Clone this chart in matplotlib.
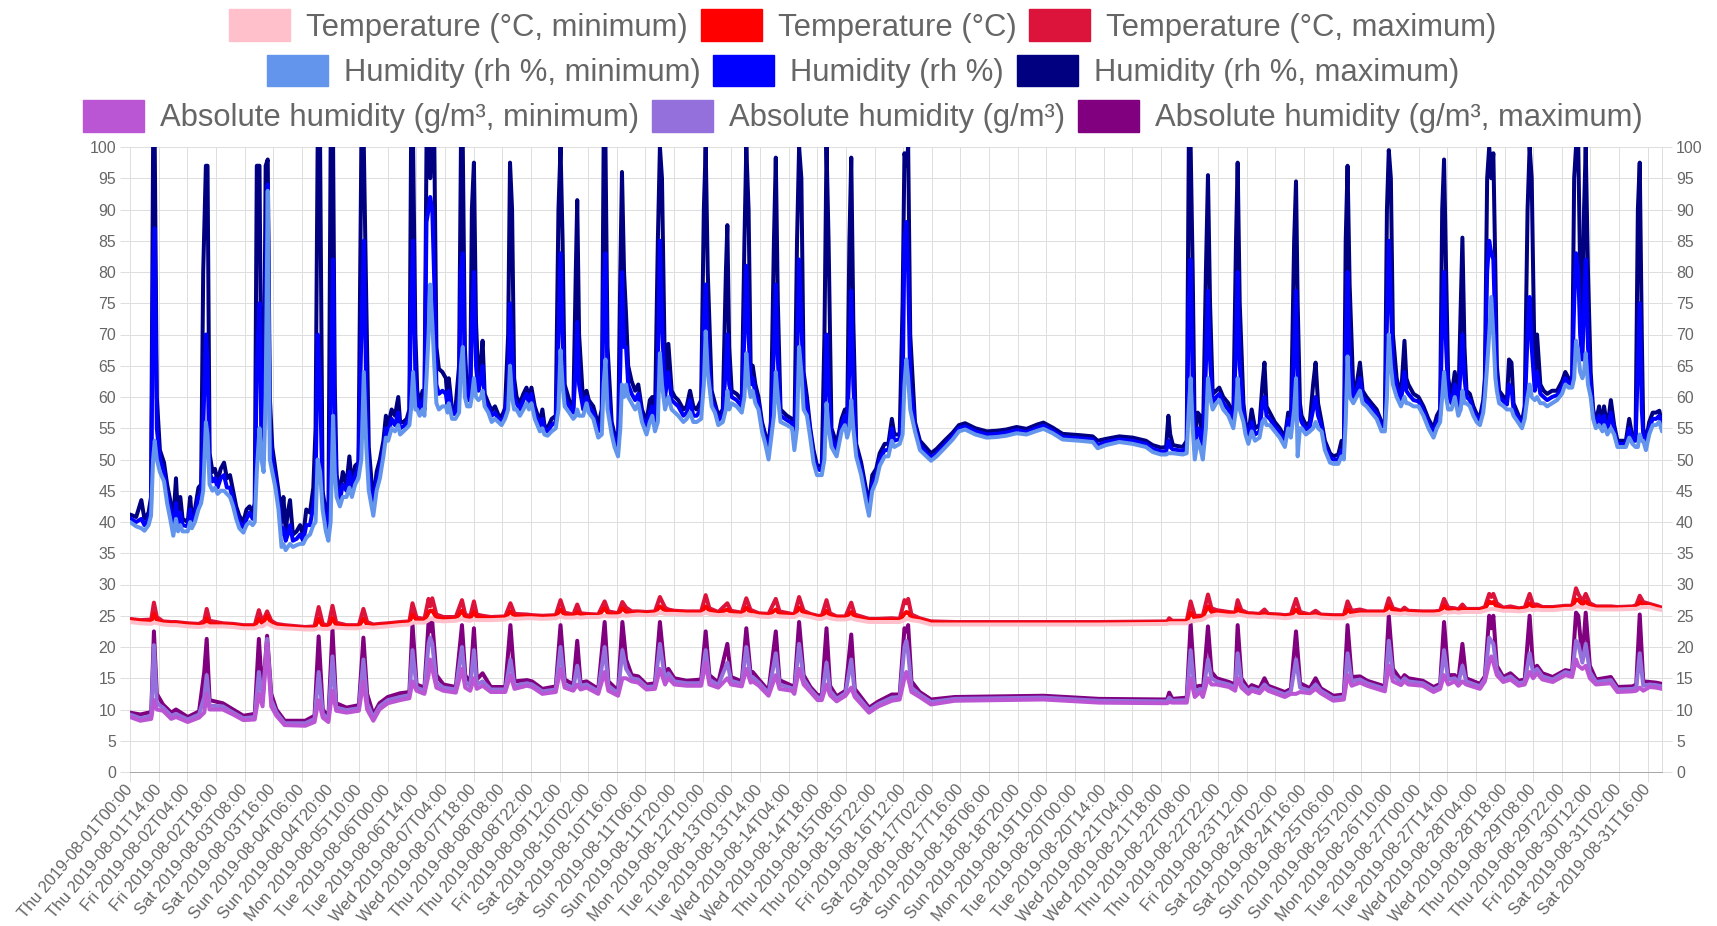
import matplotlib
matplotlib.use("Agg")
import matplotlib.pyplot as plt
from matplotlib.patches import Patch

plt.rcParams['font.family'] = ['Liberation Sans', 'DejaVu Sans']

# the category axis holds 750 samples; positions below were read off the
# picture on a 0..743 scale across the plot width
N_SAMPLES = 750
READ_SCALE = (N_SAMPLES - 1) / 743

# one label every 14 samples (the log has six extra samples on 3 Aug)
tick_labels = [
    "Thu 2019-08-01T00:00", "Thu 2019-08-01T14:00", "Fri 2019-08-02T04:00",
    "Fri 2019-08-02T18:00", "Sat 2019-08-03T08:00", "Sat 2019-08-03T16:00",
    "Sun 2019-08-04T06:00", "Sun 2019-08-04T20:00", "Mon 2019-08-05T10:00",
    "Tue 2019-08-06T00:00", "Tue 2019-08-06T14:00", "Wed 2019-08-07T04:00",
    "Wed 2019-08-07T18:00", "Thu 2019-08-08T08:00", "Thu 2019-08-08T22:00",
    "Fri 2019-08-09T12:00", "Sat 2019-08-10T02:00", "Sat 2019-08-10T16:00",
    "Sun 2019-08-11T06:00", "Sun 2019-08-11T20:00", "Mon 2019-08-12T10:00",
    "Tue 2019-08-13T00:00", "Tue 2019-08-13T14:00", "Wed 2019-08-14T04:00",
    "Wed 2019-08-14T18:00", "Thu 2019-08-15T08:00", "Thu 2019-08-15T22:00",
    "Fri 2019-08-16T12:00", "Sat 2019-08-17T02:00", "Sat 2019-08-17T16:00",
    "Sun 2019-08-18T06:00", "Sun 2019-08-18T20:00", "Mon 2019-08-19T10:00",
    "Tue 2019-08-20T00:00", "Tue 2019-08-20T14:00", "Wed 2019-08-21T04:00",
    "Wed 2019-08-21T18:00", "Thu 2019-08-22T08:00", "Thu 2019-08-22T22:00",
    "Fri 2019-08-23T12:00", "Sat 2019-08-24T02:00", "Sat 2019-08-24T16:00",
    "Sun 2019-08-25T06:00", "Sun 2019-08-25T20:00", "Mon 2019-08-26T10:00",
    "Tue 2019-08-27T00:00", "Tue 2019-08-27T14:00", "Wed 2019-08-28T04:00",
    "Wed 2019-08-28T18:00", "Thu 2019-08-29T08:00", "Thu 2019-08-29T22:00",
    "Fri 2019-08-30T12:00", "Sat 2019-08-31T02:00", "Sat 2019-08-31T16:00",
]
TICK_STEP = 14

# humidity (rh %): position on the axis, then min / mean / max
hum_pos = [
    0, 3, 5.5, 7, 9, 10.2, 11.2, 12.0, 13.0, 14.5,
    16.5, 18, 19.5, 21, 22.3, 23.3, 24.4, 25.5, 28, 29.2,
    30, 31.5, 33.2, 34.5, 35.5, 36.8, 37.6, 38.6, 40, 41.2,
    42.5, 44, 45.6, 47, 48.5, 50, 51.5, 53, 55, 56.5,
    58, 59.5, 60.5, 61.5, 62.8, 63.8, 64.8, 65.8, 66.8, 67.8,
    69, 70.5, 72, 73.5, 74.4, 75.5, 76.5, 77.6, 79, 80.8,
    82.5, 84, 85.5, 87.3, 88.9, 90, 91.0, 92.2, 93.4, 95,
    96.2, 97.3, 98.5, 99.3, 100.2, 101.8, 103.2, 105, 106.4, 107.6,
    109.2, 110.8, 112.2, 113.4, 114.6, 115.8, 118, 119.6, 121.2, 122.9,
    124.1, 125.2, 126.9, 128.5, 130.1, 131, 132.6, 134.2, 135.5, 136.3,
    137.3, 138.4, 139.3, 140.5, 141.9, 142.8, 143.8, 144.8, 145.6, 146.6,
    147.6, 148.6, 149.8, 151.5, 153.2, 154, 154.6, 156.2, 157.8, 159.6,
    160.5, 161.4, 162.4, 163.5, 165, 165.8, 166.8, 167.8, 169, 170.3,
    171, 172, 173.8, 175.4, 177, 178.6, 180.2, 181.9, 183.4, 184.3,
    185.3, 186.3, 187.5, 189.1, 190.8, 192.3, 193.5, 194.7, 196.3, 198.8,
    200, 201, 202.5, 204.5, 206.5, 207.8, 208.8, 209.8, 210.8, 213,
    215, 216.2, 216.9, 217.8, 219.8, 221.4, 222.5, 224.7, 227.1, 228.8,
    229.7, 230.6, 231.6, 233.6, 235, 236.7, 237.8, 238.6, 239.6, 240.6,
    241.6, 243.3, 245, 246.5, 248.3, 250.5, 252.1, 253.3, 254.6, 256,
    257, 258, 259.5, 261.1, 262.7, 264.3, 265.9, 268.4, 270, 271.6,
    273.2, 274.8, 277, 278.3, 279.2, 280.2, 282.1, 283.7, 285.3, 287.5,
    289, 289.7, 290.6, 291.8, 294.2, 296.7, 298, 298.9, 300, 301,
    302, 303.3, 304.8, 306.5, 308.1, 309.7, 310.8, 312.3, 313.2, 314.2,
    315.5, 318.6, 321.1, 322.2, 323.5, 324.5, 325.6, 326.7, 328.3, 329.9,
    331.5, 333.2, 335.5, 336.8, 337.8, 338.8, 340.2, 342.7, 345.1, 346.7,
    347.8, 348.9, 349.8, 350.8, 352.2, 354.6, 357.1, 358.4, 360, 361.9,
    363.6, 366, 367.8, 369.5, 370.7, 373.3, 374.7, 375.6, 376.5, 377.4,
    378.4, 380.7, 383.1, 386.3, 388.5, 391.2, 395, 399, 402, 405,
    410, 415.5, 420.4, 425, 430, 434.8, 440, 443, 447.5, 452.3,
    460.4, 466.9, 469.3, 473.3, 479.8, 486.3, 492.7, 496, 500, 502.5,
    503.6, 504.5, 505.8, 510.6, 512.5, 513.5, 514.4, 515.4, 516.4, 517.8,
    519, 520.3, 521.8, 522.8, 523.8, 525.1, 526.8, 528.3, 530.2, 532.7,
    535.1, 536.4, 537.2, 538.2, 540, 541, 542.4, 544, 545.6, 547.8,
    549.2, 550.2, 551.2, 552.8, 555.2, 557.6, 560.1, 561.7, 563, 564.6,
    565.5, 566.3, 567.4, 568.2, 570.3, 572.2, 573.8, 575, 576.2, 577.9,
    579.5, 582, 583.6, 586, 587.6, 588.7, 589.6, 590.5, 591.5, 593.3,
    594.9, 596.5, 597.8, 599.7, 602.1, 604.6, 607, 608.6, 609.6, 610.5,
    611.5, 612.5, 614.3, 616.4, 618.1, 619, 620, 622.5, 624.9, 627.3,
    629.7, 632.2, 633.8, 635.4, 636.4, 637.3, 638.3, 639.3, 640.9, 642.5,
    644.2, 645.4, 646.2, 647.2, 648.2, 649.8, 651.5, 653.1, 654.7, 656.3,
    657.1, 658.2, 659.2, 660.2, 661.2, 662.2, 662.9, 664, 666.2, 667.8,
    668.8, 670, 671, 673.5, 675.1, 676.4, 677.8, 678.8, 679.8, 681.3,
    682.4, 684, 685.6, 687.3, 689.7, 692.1, 694.5, 696.1, 697.7, 699.4,
    700.4, 701.3, 702.4, 703.3, 704.4, 705.2, 706, 707.1, 708.4, 709.6,
    710.9, 712.5, 714.1, 714.9, 716.5, 718.2, 719.8, 721.4, 723.9, 725.5,
    727.1, 728.7, 730.2, 731.3, 732.2, 733.2, 733.9, 735.2, 736.8, 738.5,
    740.1, 741.7, 743,
]
hum_min = [
    40.0, 39.3, 39.0, 38.6, 39.5, 41.0, 50.0, 53.0, 50.0, 48.0,
    46.5, 43.0, 40.5, 37.8, 40.5, 38.5, 39.5, 38.5, 38.5, 40.0,
    39.0, 40.0, 42.0, 43.0, 45.0, 56.0, 54.0, 46.0, 45.0, 45.5,
    44.5, 45.0, 45.0, 44.5, 44.0, 42.5, 40.5, 39.0, 38.3, 39.5,
    40.0, 39.5, 40.0, 48.0, 55.0, 50.0, 48.0, 60.0, 93.0, 50.0,
    48.0, 45.5, 42.0, 36.0, 36.5, 35.5, 36.0, 36.5, 36.0, 36.3,
    36.5, 36.5, 37.5, 38.0, 39.5, 40.0, 50.0, 48.0, 42.0, 38.5,
    37.0, 40.0, 57.0, 48.0, 44.0, 42.5, 44.0, 44.0, 45.5, 44.0,
    46.0, 47.0, 50.0, 64.0, 52.0, 45.0, 41.0, 45.0, 47.0, 50.5,
    53.5, 53.0, 55.0, 54.5, 55.5, 54.0, 54.5, 55.0, 55.5, 58.0,
    64.0, 58.0, 58.0, 57.0, 58.0, 57.0, 63.0, 70.0, 78.0, 72.0,
    65.0, 59.0, 58.0, 58.5, 58.5, 57.5, 59.0, 56.5, 56.5, 57.5,
    65.0, 68.0, 60.0, 58.5, 58.5, 60.0, 63.0, 60.0, 59.5, 60.0,
    61.0, 58.5, 57.5, 56.0, 56.5, 56.0, 55.5, 56.5, 58.0, 65.0,
    60.0, 58.0, 58.0, 57.0, 58.0, 59.0, 58.0, 59.0, 56.5, 54.5,
    55.0, 54.0, 53.8, 54.5, 55.0, 58.0, 67.5, 62.0, 58.5, 57.5,
    56.5, 57.0, 58.0, 57.0, 57.0, 59.0, 57.5, 56.5, 53.5, 54.0,
    62.0, 66.0, 58.0, 54.0, 52.0, 50.5, 55.0, 62.0, 60.0, 62.0,
    60.0, 59.0, 58.0, 59.0, 56.0, 54.0, 56.0, 57.0, 54.5, 56.0,
    67.0, 62.0, 58.0, 60.0, 58.0, 57.5, 57.0, 56.0, 56.5, 57.5,
    56.0, 56.0, 56.5, 62.0, 70.5, 64.0, 58.5, 57.5, 55.5, 56.0,
    58.0, 61.0, 58.0, 59.0, 58.5, 57.5, 60.0, 67.0, 62.0, 60.0,
    61.0, 59.0, 58.0, 54.5, 52.5, 50.0, 53.0, 57.0, 64.0, 60.0,
    56.0, 55.5, 55.0, 51.5, 55.0, 68.0, 64.0, 58.0, 57.0, 53.5,
    49.5, 47.5, 47.5, 50.0, 59.0, 55.0, 52.0, 50.5, 54.5, 55.5,
    53.5, 55.0, 59.5, 55.0, 50.5, 47.5, 43.0, 41.0, 45.0, 46.5,
    49.0, 50.5, 50.5, 53.0, 52.0, 52.5, 54.0, 62.0, 66.0, 63.0,
    58.0, 54.5, 51.5, 50.5, 49.8, 50.5, 51.8, 53.2, 54.5, 54.8,
    54.0, 53.5, 53.6, 53.8, 54.2, 54.0, 54.6, 54.9, 54.2, 53.2,
    53.0, 52.8, 51.8, 52.3, 52.8, 52.5, 52.0, 51.2, 50.8, 50.8,
    51.0, 51.0, 51.0, 50.8, 51.0, 58.0, 63.0, 55.0, 50.0, 53.0,
    52.0, 50.0, 55.0, 63.0, 60.0, 58.0, 59.0, 59.5, 58.0, 57.0,
    55.0, 58.0, 63.0, 58.0, 56.0, 54.0, 52.5, 54.5, 53.0, 53.5,
    56.0, 56.5, 55.5, 55.5, 54.5, 53.5, 52.0, 55.0, 53.5, 58.0,
    63.0, 50.5, 55.0, 55.0, 54.0, 54.5, 55.0, 56.0, 55.0, 54.5,
    51.5, 49.5, 49.3, 49.3, 50.5, 50.0, 56.0, 66.5, 60.0, 59.0,
    60.0, 61.0, 59.0, 58.5, 57.5, 56.5, 54.5, 54.5, 60.0, 70.0,
    65.0, 62.0, 60.0, 58.5, 60.0, 59.0, 59.0, 58.5, 58.5, 57.0,
    55.0, 53.5, 55.0, 56.0, 60.0, 64.0, 60.0, 58.0, 58.0, 60.0,
    57.0, 58.0, 61.0, 59.0, 59.0, 58.5, 57.0, 56.0, 55.5, 57.5,
    60.0, 65.0, 70.0, 76.0, 70.0, 63.0, 61.0, 59.0, 58.5, 58.0,
    58.0, 58.0, 57.0, 55.8, 55.0, 56.5, 60.0, 62.0, 60.0, 59.5,
    60.0, 59.0, 59.0, 58.5, 59.0, 59.5, 60.5, 62.0, 61.5, 61.5,
    63.0, 69.0, 67.0, 64.0, 63.0, 64.0, 67.0, 62.0, 60.0, 56.5,
    55.0, 55.5, 54.5, 55.5, 54.0, 55.0, 54.0, 52.0, 52.0, 52.0,
    53.5, 52.5, 52.0, 52.0, 54.0, 53.0, 53.0, 51.5, 54.0, 55.5,
    55.5, 56.0, 54.5,
]
hum_avg = [
    40.6, 40.0, 40.5, 39.5, 40.5, 42.5, 80.0, 87.0, 55.0, 50.0,
    48.0, 44.5, 42.0, 38.8, 43.0, 39.5, 41.5, 39.5, 39.3, 42.0,
    39.8, 41.0, 44.0, 44.5, 55.0, 70.0, 66.0, 48.0, 46.5, 47.0,
    45.5, 47.0, 47.5, 45.5, 45.5, 43.5, 41.5, 40.0, 39.0, 40.5,
    41.5, 40.5, 41.5, 65.0, 75.0, 52.0, 50.0, 80.0, 94.0, 55.0,
    50.0, 47.0, 43.5, 38.0, 39.0, 37.0, 38.0, 39.5, 37.0, 37.3,
    38.0, 37.0, 39.5, 39.5, 42.5, 45.0, 70.0, 62.0, 43.5, 40.0,
    38.0, 60.0, 82.0, 55.0, 46.0, 43.5, 46.0, 45.0, 48.0, 45.0,
    47.5, 48.5, 70.0, 85.0, 60.0, 48.0, 42.0, 46.5, 48.5, 51.5,
    55.0, 54.0, 56.5, 55.5, 57.5, 55.0, 55.3, 55.8, 57.0, 75.0,
    85.0, 63.0, 59.5, 58.0, 59.5, 58.0, 88.0, 90.0, 92.0, 90.0,
    78.0, 62.0, 60.5, 61.0, 60.5, 58.5, 61.0, 57.3, 57.3, 60.0,
    80.0, 83.0, 63.0, 59.5, 59.5, 72.0, 80.0, 65.0, 61.0, 63.0,
    65.0, 59.5, 58.3, 57.0, 57.5, 56.5, 56.0, 57.3, 62.0, 75.0,
    68.0, 60.0, 59.0, 58.0, 59.5, 60.5, 59.0, 60.5, 57.5, 55.3,
    56.5, 55.0, 54.5, 55.5, 56.0, 70.0, 83.0, 70.0, 60.0, 58.5,
    57.5, 65.0, 72.0, 62.0, 58.0, 60.0, 58.5, 57.5, 54.5, 56.0,
    78.0, 83.0, 62.0, 55.0, 53.0, 51.5, 65.0, 80.0, 68.0, 68.0,
    62.0, 60.5, 59.5, 60.5, 57.0, 55.0, 57.5, 58.5, 55.5, 65.0,
    85.0, 72.0, 60.0, 64.0, 59.5, 59.0, 58.5, 57.0, 57.5, 59.5,
    57.0, 57.0, 58.0, 72.0, 78.0, 68.0, 59.5, 58.3, 56.3, 57.0,
    65.0, 70.0, 62.0, 60.0, 59.5, 58.5, 70.0, 81.0, 70.0, 62.0,
    63.0, 60.5, 59.0, 55.3, 53.3, 51.5, 54.5, 68.0, 78.0, 66.0,
    57.0, 56.3, 55.8, 52.5, 65.0, 82.0, 72.0, 62.0, 58.5, 54.5,
    50.5, 48.5, 48.2, 55.0, 70.0, 62.0, 53.5, 51.5, 55.5, 57.0,
    54.5, 65.0, 77.0, 62.0, 51.5, 48.5, 44.0, 42.0, 46.0, 47.5,
    50.0, 51.5, 51.5, 55.0, 53.0, 53.3, 60.0, 85.0, 88.0, 80.0,
    62.0, 55.3, 52.3, 51.0, 50.3, 51.0, 52.3, 53.7, 55.0, 55.3,
    54.5, 54.0, 54.1, 54.3, 54.7, 54.4, 55.1, 55.4, 54.6, 53.6,
    53.4, 53.2, 52.3, 52.8, 53.2, 53.0, 52.5, 51.7, 51.3, 51.3,
    53.0, 52.0, 51.6, 51.4, 52.0, 75.0, 82.0, 62.0, 51.5, 55.0,
    54.5, 51.0, 65.0, 77.0, 66.0, 59.0, 60.0, 60.5, 59.0, 58.0,
    56.0, 68.0, 80.0, 65.0, 57.5, 55.0, 53.3, 56.0, 54.0, 54.5,
    59.0, 60.0, 57.0, 56.5, 55.3, 54.3, 52.8, 56.5, 54.5, 68.0,
    77.0, 62.0, 57.0, 56.0, 54.8, 55.3, 58.0, 60.0, 57.0, 55.3,
    52.3, 50.3, 50.0, 50.0, 51.5, 50.5, 68.0, 80.0, 66.0, 60.0,
    61.0, 63.0, 60.0, 59.3, 58.3, 57.3, 55.3, 55.3, 72.0, 85.0,
    75.0, 65.0, 61.5, 59.3, 64.0, 61.0, 60.5, 59.5, 59.3, 57.8,
    55.8, 54.3, 56.0, 57.0, 72.0, 80.0, 68.0, 60.5, 59.0, 62.0,
    57.8, 65.0, 70.0, 63.0, 60.0, 59.5, 57.8, 56.7, 56.2, 58.5,
    61.5, 80.0, 85.0, 83.0, 82.0, 70.0, 63.0, 60.0, 59.3, 58.8,
    62.0, 61.5, 58.0, 56.5, 55.5, 57.5, 70.0, 76.0, 68.0, 61.0,
    64.0, 60.5, 60.0, 59.5, 60.0, 60.3, 61.5, 63.0, 62.3, 62.0,
    75.0, 83.0, 80.0, 70.0, 66.0, 75.0, 82.0, 68.0, 62.0, 57.3,
    55.5, 57.0, 55.0, 57.0, 54.5, 57.5, 54.8, 52.5, 52.5, 52.5,
    55.0, 53.0, 53.0, 65.0, 75.0, 58.0, 54.0, 52.3, 55.0, 56.5,
    56.5, 57.0, 55.2,
]
hum_max = [
    41.2, 40.8, 43.5, 40.5, 41.5, 44.0, 100, 100, 60.0, 51.5,
    49.5, 46.0, 43.5, 40.0, 47.0, 40.5, 44.0, 40.5, 40.0, 44.0,
    40.5, 42.0, 45.5, 46.0, 80.0, 97.0, 97.0, 51.0, 48.0, 48.5,
    46.5, 48.5, 49.5, 47.0, 47.5, 45.0, 42.5, 41.0, 40.0, 42.0,
    42.5, 41.5, 43.0, 97.0, 97.0, 55.0, 52.0, 97.0, 98.0, 60.0,
    52.0, 48.5, 45.0, 40.0, 44.0, 38.5, 41.5, 43.5, 38.0, 38.5,
    39.5, 37.8, 42.0, 41.5, 45.5, 55.0, 100, 100, 45.0, 41.5,
    39.0, 100, 100, 62.0, 47.5, 44.5, 48.0, 46.0, 50.5, 46.0,
    49.0, 49.5, 100, 100, 75.0, 52.0, 43.0, 48.0, 50.0, 53.0,
    57.0, 55.5, 58.0, 57.0, 60.0, 56.0, 56.0, 56.5, 58.0, 100,
    100, 70.0, 61.0, 59.0, 61.0, 59.0, 100, 100, 95.0, 100,
    100, 68.0, 64.5, 64.0, 63.0, 59.5, 63.0, 58.0, 58.0, 65.0,
    100, 100, 68.0, 60.5, 60.5, 90.0, 97.5, 72.0, 62.5, 66.0,
    69.0, 60.5, 59.0, 57.8, 58.5, 57.2, 56.8, 58.2, 70.0, 97.5,
    90.0, 63.0, 60.0, 59.0, 60.5, 61.5, 60.0, 61.5, 58.5, 56.0,
    58.0, 55.5, 55.0, 56.5, 57.0, 90.0, 100, 85.0, 62.0, 59.5,
    58.0, 80.0, 91.5, 70.0, 59.0, 61.0, 59.5, 58.5, 55.5, 58.0,
    100, 100, 68.0, 56.0, 54.0, 52.5, 80.0, 96.0, 80.0, 73.0,
    65.0, 62.5, 61.0, 62.0, 58.0, 56.0, 59.5, 60.0, 56.5, 85.0,
    100, 95.0, 62.0, 68.5, 61.0, 60.0, 59.5, 58.0, 58.5, 61.0,
    58.5, 58.0, 59.5, 90.0, 100, 80.0, 61.0, 59.0, 57.0, 58.0,
    80.0, 87.5, 68.0, 61.0, 60.5, 59.5, 85.0, 100, 90.0, 65.0,
    65.0, 62.0, 60.0, 56.0, 54.0, 52.5, 56.0, 85.0, 98.3, 75.0,
    58.0, 57.0, 56.5, 53.0, 85.0, 100, 95.0, 64.0, 60.0, 55.0,
    51.5, 49.0, 49.0, 70.0, 100, 85.0, 55.0, 52.5, 56.5, 58.0,
    55.5, 85.0, 98.3, 72.0, 52.5, 49.5, 45.0, 43.0, 47.5, 48.5,
    51.0, 52.5, 52.5, 56.5, 54.0, 54.0, 75.0, 99.0, 97.0, 100,
    70.0, 56.0, 53.0, 51.8, 51.0, 51.7, 53.0, 54.3, 55.5, 55.8,
    55.0, 54.5, 54.6, 54.8, 55.2, 54.9, 55.6, 55.9, 55.1, 54.1,
    53.9, 53.7, 53.0, 53.3, 53.7, 53.5, 53.0, 52.3, 51.9, 52.0,
    57.0, 54.0, 52.3, 52.0, 53.0, 100, 100, 80.0, 53.0, 57.5,
    57.0, 52.0, 80.0, 95.5, 75.0, 60.5, 61.0, 61.5, 60.0, 59.0,
    57.0, 85.0, 97.5, 75.0, 59.0, 56.0, 54.0, 58.0, 55.0, 55.5,
    62.0, 65.5, 58.5, 57.5, 56.0, 55.0, 53.5, 57.5, 55.5, 85.0,
    94.5, 75.0, 59.0, 57.0, 55.5, 56.0, 62.0, 65.5, 59.0, 56.0,
    53.0, 51.0, 50.5, 50.8, 53.0, 51.0, 85.0, 97.0, 78.0, 61.0,
    62.0, 65.5, 61.0, 60.0, 59.0, 58.0, 56.0, 56.0, 90.0, 99.5,
    95.0, 70.0, 63.0, 60.0, 69.0, 63.0, 62.0, 60.5, 60.0, 58.5,
    56.5, 55.0, 57.0, 58.0, 90.0, 98.0, 80.0, 63.0, 60.0, 64.0,
    58.5, 75.0, 85.5, 68.0, 61.0, 60.5, 58.5, 57.3, 56.8, 59.5,
    63.0, 95.0, 100, 95.0, 99.0, 80.0, 65.0, 61.0, 60.0, 59.5,
    66.0, 65.5, 59.0, 57.0, 56.0, 58.5, 90.0, 100, 95.0, 63.0,
    70.0, 62.0, 61.0, 60.5, 61.0, 61.0, 62.5, 64.0, 63.0, 62.5,
    95.0, 100, 100, 80.0, 70.0, 90.0, 100, 80.0, 64.0, 58.0,
    56.0, 58.5, 55.5, 58.5, 55.0, 59.5, 55.5, 53.0, 53.0, 53.0,
    56.5, 53.5, 54.0, 90.0, 97.5, 70.0, 55.0, 53.0, 56.0, 57.5,
    57.5, 57.8, 55.8,
]

# temperature (°C) and absolute humidity (g/m³): position on the axis
ta_pos = [
    0, 5, 10.3, 11.6, 13, 16, 20, 22.3, 28, 33.5,
    36, 37.2, 38.6, 45, 50, 55, 60.5, 62.5, 64.3, 66.5,
    68.5, 71, 75, 85, 89.5, 91.5, 93.5, 96.2, 98.2, 100,
    105, 111, 113.2, 115, 118, 121, 125, 131, 135.5, 137,
    139, 142.8, 144.8, 145.6, 146.6, 148.6, 152, 158, 161, 162.6,
    165, 166.8, 168.2, 171, 175, 182, 184.5, 186.5, 192.5, 195,
    200, 206.5, 208.8, 210.8, 215, 216.9, 218.5, 221.4, 227.1, 230.2,
    232, 236.7, 238.8, 240.6, 243.3, 246.5, 250.5, 254.6, 257, 259.5,
    261.1, 264, 270, 277, 279.2, 281, 285.3, 289.7, 291.5, 296.7,
    298.9, 301, 302, 305, 309.7, 313.2, 315, 321, 322.2, 324.5,
    326.7, 330, 333.5, 335.5, 337.8, 339.5, 342.7, 347, 349.8, 351.5,
    358.4, 363, 369.5, 373.3, 375.6, 376.5, 377.4, 379, 383, 388.5,
    400, 420, 443, 470, 500, 503, 504, 505.5, 512.5, 514.4,
    516.4, 519, 520.3, 522.8, 524.5, 527, 533, 536, 537.2, 539,
    542.4, 544, 547.8, 550.2, 552, 557.6, 560.1, 563, 565.5, 567.5,
    572.2, 575, 577.5, 583.6, 588.7, 590.5, 592.5, 596.5, 600, 608.6,
    610.5, 612.5, 616.4, 618.1, 620, 627, 632.2, 635.4, 637.3, 639.3,
    642.5, 644.2, 646.2, 648, 654.7, 657.1, 659.2, 660.2, 661.2, 662.9,
    666, 669.5, 673.5, 676.4, 678.8, 680.5, 682.4, 685, 690, 696.1,
    699.4, 701.3, 702.4, 704.4, 706, 708, 711, 718.2, 721.4, 728.7,
    730.5, 732.2, 733.9, 737, 740.1, 743,
]
temp_min = [
    24.0, 23.8, 23.7, 23.9, 23.8, 23.6, 23.5, 23.5, 23.3, 23.2,
    23.3, 23.5, 23.3, 23.3, 23.2, 23.0, 23.0, 23.3, 23.3, 23.8,
    23.4, 23.1, 23.0, 22.8, 22.8, 23.0, 22.9, 22.9, 23.2, 23.1,
    23.0, 23.0, 23.2, 23.2, 23.1, 23.2, 23.3, 23.5, 23.6, 23.9,
    23.9, 23.9, 24.3, 24.5, 24.5, 24.2, 24.1, 24.2, 24.5, 24.3,
    24.2, 24.4, 24.3, 24.3, 24.3, 24.4, 24.7, 24.5, 24.6, 24.6,
    24.5, 24.6, 24.9, 24.7, 24.7, 24.8, 24.7, 24.8, 24.8, 25.0,
    24.9, 24.9, 25.1, 25.0, 25.1, 25.2, 25.1, 25.2, 25.5, 25.3,
    25.3, 25.3, 25.2, 25.2, 25.5, 25.3, 25.1, 25.2, 25.1, 25.0,
    25.3, 25.1, 25.1, 24.9, 24.8, 25.0, 24.9, 24.8, 24.8, 25.2,
    25.0, 24.8, 24.5, 24.5, 24.8, 24.6, 24.4, 24.4, 24.6, 24.4,
    24.0, 24.0, 24.0, 24.0, 24.3, 24.5, 24.5, 24.3, 24.1, 23.6,
    23.6, 23.6, 23.6, 23.6, 23.7, 23.7, 23.8, 23.8, 23.8, 24.1,
    24.2, 24.3, 24.4, 24.9, 25.0, 25.2, 25.0, 25.0, 25.2, 25.1,
    24.9, 24.9, 24.8, 24.9, 24.8, 24.7, 24.6, 24.7, 24.9, 24.8,
    24.8, 24.9, 24.7, 24.6, 24.6, 24.9, 25.0, 25.2, 25.2, 25.2,
    25.5, 25.4, 25.3, 25.4, 25.3, 25.2, 25.2, 25.3, 25.6, 25.5,
    25.6, 25.5, 25.6, 25.6, 25.6, 25.8, 26.0, 26.1, 26.1, 26.0,
    25.8, 25.8, 25.7, 25.8, 26.0, 25.9, 26.0, 25.9, 25.9, 26.1,
    26.1, 26.5, 26.5, 26.3, 26.4, 26.2, 26.0, 26.0, 26.0, 26.1,
    26.1, 26.3, 26.4, 26.4, 26.1, 25.9,
]
temp_avg = [
    24.3, 24.1, 24.0, 25.3, 24.3, 23.9, 23.8, 23.8, 23.6, 23.5,
    23.6, 24.6, 23.7, 23.6, 23.5, 23.3, 23.3, 24.5, 23.7, 25.0,
    23.8, 23.4, 23.3, 23.0, 23.0, 24.5, 23.3, 23.2, 24.6, 23.5,
    23.3, 23.3, 24.5, 23.6, 23.4, 23.5, 23.6, 23.8, 23.9, 25.2,
    24.3, 24.2, 25.5, 25.8, 25.8, 24.7, 24.5, 24.5, 25.8, 24.8,
    24.6, 25.6, 24.8, 24.7, 24.6, 24.7, 25.7, 24.9, 24.9, 24.9,
    24.8, 24.9, 26.0, 25.1, 25.0, 25.6, 25.1, 25.1, 25.0, 26.2,
    25.3, 25.2, 26.2, 25.6, 25.4, 25.5, 25.4, 25.5, 26.5, 25.8,
    25.7, 25.6, 25.5, 25.5, 26.5, 25.8, 25.4, 26.0, 25.5, 25.3,
    26.3, 25.5, 25.5, 25.2, 25.1, 26.0, 25.3, 25.1, 25.0, 26.3,
    25.4, 25.1, 24.8, 24.8, 25.8, 25.0, 24.7, 24.7, 25.6, 24.8,
    24.3, 24.3, 24.3, 24.3, 25.3, 25.6, 25.5, 24.7, 24.4, 23.9,
    23.8, 23.8, 23.8, 23.8, 23.9, 23.9, 24.1, 24.0, 24.0, 25.5,
    24.6, 24.7, 24.8, 26.5, 25.6, 25.6, 25.4, 25.3, 26.2, 25.5,
    25.2, 25.2, 25.1, 25.3, 25.1, 25.0, 24.9, 25.0, 26.0, 25.2,
    25.0, 25.2, 25.0, 24.9, 24.9, 26.0, 25.4, 25.5, 25.5, 25.5,
    26.6, 25.8, 25.6, 25.8, 25.6, 25.5, 25.5, 25.6, 26.6, 25.9,
    25.9, 25.8, 26.2, 25.9, 25.9, 26.1, 27.3, 27.0, 27.2, 26.4,
    26.1, 26.1, 26.0, 26.1, 27.0, 26.3, 26.4, 26.2, 26.2, 26.4,
    26.4, 27.6, 27.5, 26.8, 27.3, 26.6, 26.3, 26.3, 26.2, 26.3,
    26.4, 27.2, 26.8, 26.7, 26.4, 26.1,
]
temp_max = [
    24.5, 24.3, 24.4, 27.1, 24.8, 24.1, 24.0, 24.0, 23.8, 23.7,
    24.2, 26.1, 24.2, 23.8, 23.7, 23.5, 23.5, 25.9, 24.0, 25.7,
    24.2, 23.7, 23.5, 23.2, 23.3, 26.4, 23.7, 23.4, 26.6, 23.9,
    23.5, 23.5, 26.1, 24.0, 23.6, 23.7, 23.8, 24.0, 24.1, 27.0,
    24.7, 24.5, 27.7, 26.5, 27.8, 25.2, 24.8, 24.8, 27.5, 25.2,
    24.9, 27.3, 25.2, 25.0, 24.8, 24.9, 27.0, 25.3, 25.2, 25.1,
    25.0, 25.1, 27.5, 25.5, 25.2, 26.8, 25.4, 25.3, 25.2, 27.3,
    25.7, 25.4, 27.2, 26.3, 25.7, 25.7, 25.6, 25.7, 28.0, 26.3,
    26.0, 25.8, 25.7, 25.7, 28.3, 26.2, 25.6, 27.0, 25.8, 25.5,
    27.8, 25.9, 25.8, 25.4, 25.3, 27.7, 25.7, 25.3, 25.2, 28.0,
    25.8, 25.3, 25.0, 25.0, 27.5, 25.4, 24.9, 24.9, 27.1, 25.2,
    24.5, 24.5, 24.6, 24.5, 27.5, 27.0, 27.7, 25.2, 24.6, 24.1,
    24.0, 24.0, 24.0, 24.0, 24.1, 24.1, 24.6, 24.2, 24.2, 27.3,
    25.0, 25.0, 25.0, 28.4, 26.2, 25.9, 25.6, 25.5, 27.5, 25.9,
    25.4, 25.4, 25.3, 26.0, 25.3, 25.2, 25.1, 25.2, 27.7, 25.6,
    25.2, 25.8, 25.2, 25.1, 25.1, 27.3, 25.8, 26.0, 25.7, 25.7,
    27.8, 26.2, 25.8, 26.3, 25.8, 25.7, 25.7, 25.8, 27.7, 26.3,
    26.2, 26.0, 26.8, 26.1, 26.1, 26.4, 28.5, 28.0, 28.5, 27.0,
    26.3, 26.5, 26.2, 26.3, 28.5, 26.8, 26.8, 26.4, 26.4, 26.6,
    26.6, 29.4, 28.5, 27.3, 28.5, 27.0, 26.5, 26.5, 26.4, 26.5,
    26.7, 28.2, 27.2, 26.9, 26.6, 26.3,
]
ah_min = [
    8.8, 8.2, 8.5, 11.5, 10.0, 9.8, 8.5, 8.8, 8.0, 8.7,
    9.5, 12.5, 10.0, 10.0, 9.2, 8.3, 8.4, 12.5, 10.5, 20.5,
    10.5, 9.0, 7.5, 7.4, 8.0, 11.5, 8.7, 8.0, 13.0, 9.8,
    9.5, 9.8, 14.5, 10.0, 8.2, 10.0, 11.0, 11.5, 11.8, 14.5,
    13.0, 12.5, 15.5, 18.0, 16.5, 13.5, 13.0, 12.7, 16.5, 13.5,
    13.0, 15.0, 13.3, 13.8, 12.8, 12.8, 15.5, 13.3, 13.8, 13.6,
    12.5, 12.8, 16.5, 13.5, 13.0, 14.0, 13.2, 13.5, 12.5, 16.0,
    13.0, 12.2, 15.0, 15.0, 14.5, 14.3, 13.2, 13.3, 16.5, 14.0,
    15.0, 14.0, 13.8, 13.8, 17.5, 14.0, 13.5, 15.0, 14.0, 13.7,
    16.5, 14.3, 14.5, 13.8, 12.2, 15.5, 13.3, 13.0, 12.5, 16.5,
    14.0, 12.8, 11.5, 11.5, 14.0, 12.3, 11.3, 12.2, 13.5, 12.0,
    9.5, 10.5, 11.4, 11.6, 15.0, 16.0, 15.0, 12.8, 12.0, 10.8,
    11.4, 11.5, 11.6, 11.1, 11.0, 11.0, 11.2, 11.1, 11.1, 15.0,
    12.0, 12.8, 12.0, 15.0, 14.0, 14.0, 13.6, 13.0, 15.0, 13.5,
    12.5, 13.0, 12.6, 13.5, 13.0, 12.3, 12.0, 12.5, 12.5, 12.8,
    12.6, 13.3, 12.6, 11.4, 11.6, 15.5, 13.8, 14.3, 13.8, 12.9,
    17.0, 14.5, 13.9, 14.5, 14.0, 13.8, 12.8, 13.3, 15.5, 14.0,
    14.5, 13.8, 14.5, 14.0, 13.3, 14.5, 17.5, 18.5, 17.5, 15.5,
    14.4, 14.8, 13.8, 14.0, 16.0, 15.0, 15.8, 14.8, 14.4, 15.5,
    15.2, 18.0, 17.0, 16.5, 17.0, 15.0, 14.0, 14.2, 12.8, 12.9,
    13.0, 13.5, 13.0, 13.6, 13.5, 13.3,
]
ah_avg = [
    9.2, 8.6, 9.0, 20.3, 11.0, 10.3, 9.0, 9.3, 8.4, 9.2,
    12.0, 15.5, 10.6, 10.5, 9.5, 8.6, 8.8, 16.0, 11.3, 21.3,
    11.5, 9.5, 7.8, 7.8, 8.5, 16.0, 9.3, 8.4, 18.5, 10.3,
    9.9, 10.2, 18.0, 11.0, 8.7, 10.5, 11.5, 12.0, 12.3, 19.5,
    13.5, 13.0, 20.5, 21.5, 20.5, 14.3, 13.5, 13.2, 20.0, 14.5,
    13.7, 19.5, 14.0, 14.5, 13.2, 13.2, 18.0, 13.8, 14.2, 14.0,
    12.9, 13.2, 20.0, 14.0, 13.5, 17.0, 13.8, 14.0, 12.9, 20.0,
    13.8, 12.6, 19.5, 16.5, 15.0, 14.8, 13.6, 13.7, 20.5, 14.8,
    15.8, 14.5, 14.2, 14.2, 19.5, 14.8, 13.9, 17.5, 14.6, 14.1,
    20.0, 15.0, 15.2, 14.3, 12.6, 19.0, 14.0, 13.4, 12.9, 20.5,
    14.8, 13.2, 11.9, 11.9, 17.5, 13.0, 11.7, 12.6, 18.0, 12.6,
    9.9, 10.9, 11.9, 12.0, 20.0, 21.0, 19.0, 13.5, 12.4, 11.2,
    11.7, 11.8, 11.9, 11.4, 11.3, 11.3, 11.9, 11.4, 11.5, 19.5,
    12.8, 13.3, 12.5, 18.0, 15.0, 14.5, 14.0, 13.5, 19.0, 14.2,
    12.9, 13.4, 13.0, 14.0, 13.4, 12.7, 12.4, 12.9, 18.0, 13.5,
    13.0, 14.0, 13.0, 11.8, 12.0, 19.0, 14.5, 14.8, 14.2, 13.3,
    21.0, 15.5, 14.3, 15.0, 14.5, 14.2, 13.2, 13.7, 19.5, 14.8,
    15.0, 14.2, 17.0, 14.5, 13.7, 14.9, 21.5, 21.0, 20.5, 16.3,
    14.8, 15.3, 14.2, 14.4, 19.0, 15.8, 16.5, 15.3, 14.8, 16.0,
    15.7, 21.0, 20.5, 17.5, 20.5, 16.0, 14.4, 14.7, 13.2, 13.3,
    13.5, 19.0, 13.8, 14.0, 13.9, 13.7,
]
ah_max = [
    9.5, 9.2, 9.6, 22.5, 12.5, 10.8, 9.5, 10.0, 8.8, 9.7,
    16.0, 21.3, 11.5, 11.0, 10.0, 9.0, 9.3, 21.3, 12.0, 21.8,
    12.5, 10.0, 8.2, 8.2, 9.0, 21.7, 10.0, 8.8, 22.8, 11.0,
    10.3, 10.7, 21.5, 12.5, 9.2, 11.0, 12.0, 12.6, 12.8, 23.7,
    14.0, 13.5, 24.0, 22.5, 24.0, 15.5, 14.0, 13.6, 23.5, 15.5,
    14.2, 23.0, 14.8, 15.8, 13.6, 13.6, 23.5, 14.5, 14.7, 14.5,
    13.3, 13.7, 23.5, 14.8, 14.0, 21.0, 14.3, 14.5, 13.3, 24.0,
    14.5, 13.0, 24.0, 18.0, 15.5, 15.3, 14.0, 14.2, 24.0, 15.5,
    16.5, 15.0, 14.6, 14.8, 22.5, 15.5, 14.3, 20.5, 15.2, 14.5,
    23.0, 15.7, 16.0, 14.8, 13.0, 22.5, 14.7, 13.8, 13.3, 24.0,
    15.5, 13.6, 12.3, 12.3, 23.0, 13.8, 12.1, 13.0, 22.0, 13.3,
    10.3, 11.3, 12.4, 12.4, 23.0, 22.5, 23.5, 14.5, 12.8, 11.6,
    12.0, 12.1, 12.2, 11.7, 11.6, 11.6, 12.7, 11.7, 11.9, 23.7,
    13.6, 13.8, 13.0, 23.3, 16.0, 15.0, 14.4, 14.0, 23.5, 15.0,
    13.3, 13.9, 13.4, 15.0, 13.8, 13.1, 12.8, 13.3, 22.5, 14.2,
    13.4, 15.0, 13.4, 12.2, 12.4, 23.5, 15.2, 15.3, 14.6, 13.7,
    25.0, 16.5, 14.7, 15.5, 15.0, 14.6, 13.6, 14.1, 24.0, 15.5,
    15.5, 14.6, 20.5, 15.0, 14.1, 15.3, 25.0, 23.0, 25.0, 17.0,
    15.2, 15.8, 14.6, 14.8, 25.0, 16.5, 17.0, 15.8, 15.2, 16.3,
    16.1, 25.5, 25.0, 18.0, 25.5, 17.0, 14.8, 15.2, 13.6, 13.7,
    14.0, 25.2, 14.5, 14.4, 14.3, 14.1,
]

GRID = "#dedede"
TEXT = "#666666"
PX = 72 / 100  # points per pixel at dpi 100

# legend order = dataset order; the first dataset is drawn on top
datasets = [
    (ta_pos, temp_min, "Temperature (°C, minimum)", "#ffc0cb"),
    (ta_pos, temp_avg, "Temperature (°C)", "#ff0000"),
    (ta_pos, temp_max, "Temperature (°C, maximum)", "#dc143c"),
    (hum_pos, hum_min, "Humidity (rh %, minimum)", "#6495ed"),
    (hum_pos, hum_avg, "Humidity (rh %)", "#0000ff"),
    (hum_pos, hum_max, "Humidity (rh %, maximum)", "#000080"),
    (ta_pos, ah_min, "Absolute humidity (g/m³, minimum)", "#ba55d3"),
    (ta_pos, ah_avg, "Absolute humidity (g/m³)", "#9370db"),
    (ta_pos, ah_max, "Absolute humidity (g/m³, maximum)", "#800080"),
]
for x, y, label, _ in datasets:
    assert len(x) == len(y), label

fig = plt.figure(figsize=(17.17, 9.26), dpi=100)
ax = fig.add_axes([130 / 1717, 1 - 772 / 926, (1662 - 130) / 1717, (772 - 147) / 926])

for i, (x, y, label, color) in enumerate(datasets):
    ax.plot([p * READ_SCALE for p in x], y, color=color, lw=4 * PX, zorder=20 - i,
            solid_joinstyle="round", solid_capstyle="round")

ax.set_xlim(0, N_SAMPLES - 1)
ax.set_ylim(0, 100)
ax.set_yticks(range(0, 101, 5))

ax.set_xticks([TICK_STEP * k for k in range(len(tick_labels))])
ax.set_xticklabels(tick_labels, rotation=50, ha="right", va="center", rotation_mode="anchor")

ax.grid(True, color=GRID, lw=1 * PX)
ax.set_axisbelow(True)
ax.tick_params(axis="y", left=True, right=True, labelleft=True, labelright=True,
               length=10 * PX, width=1 * PX, color=GRID, labelcolor=TEXT,
               labelsize=11.4, pad=4 * PX)
ax.tick_params(axis="x", length=10 * PX, width=1 * PX, color=GRID, labelcolor=TEXT,
               labelsize=11.9, pad=5 * PX)
ax.spines["top"].set_visible(False)
ax.spines["left"].set_color(GRID)
ax.spines["right"].set_color(GRID)
ax.spines["bottom"].set_color("#a8a8a8")
for s in ax.spines.values():
    s.set_linewidth(1 * PX)

# three legend rows of three entries, centred above the plot
for row, ypos in enumerate([0.972, 0.923, 0.874]):
    items = datasets[3 * row:3 * row + 3]
    handles = [Patch(facecolor=c, edgecolor=c) for _, _, _, c in items]
    fig.legend(handles, [lab for _, _, lab, _ in items], loc="center",
               bbox_to_anchor=(0.5026, ypos), ncol=3, frameon=False,
               fontsize=22.3, labelcolor=TEXT, handlelength=1.96, handleheight=1.2,
               handletextpad=0.52, columnspacing=0.42, borderpad=0, borderaxespad=0)

fig.savefig("out.png", dpi=100)
